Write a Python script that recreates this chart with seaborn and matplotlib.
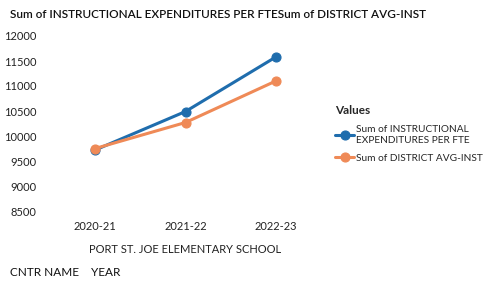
import matplotlib
matplotlib.use("Agg")
import matplotlib.pyplot as plt
import pandas as pd
import seaborn as sns

years = ["2020-21", "2021-22", "2022-23"]
instructional = [9720, 10490, 11580]
district_avg = [9750, 10270, 11100]
series_names = ["Sum of INSTRUCTIONAL\nEXPENDITURES PER FTE", "Sum of DISTRICT AVG-INST"]
y_ticks = [8500, 9000, 9500, 10000, 10500, 11000, 11500, 12000]

df = pd.DataFrame({
    "year": years * 2,
    "value": instructional + district_avg,
    "series": [series_names[0]] * 3 + [series_names[1]] * 3,
})

sns.set_theme(style="white")
plt.rcParams["font.family"] = ["Lato", "DejaVu Sans"]

fig = plt.figure(figsize=(4.9, 2.82), dpi=100)
ax = fig.add_axes([50 / 490, 1 - 211 / 282, 271 / 490, 175 / 282])

palette = {series_names[0]: "#1F6DAD", series_names[1]: "#EF8A57"}
sns.lineplot(
    data=df, x="year", y="value", hue="series", palette=palette,
    marker="o", markersize=6.5, linewidth=2.2, markeredgewidth=0.8, ax=ax,
)
for line in ax.lines:
    line.set_markeredgecolor(line.get_color())

ax.set_xlim(-0.5, 2.5)
ax.set_ylim(8500, 12000)
ax.set_yticks(y_ticks)
ax.set_yticklabels([str(t) for t in y_ticks])
for s in ax.spines.values():
    s.set_visible(False)
ax.tick_params(axis="both", length=0, labelsize=8, colors="#222222")
ax.tick_params(axis="y", pad=10)
ax.tick_params(axis="x", pad=7)
ax.set_xlabel("PORT ST. JOE ELEMENTARY SCHOOL", fontsize=8, color="#222222", labelpad=9)
ax.set_ylabel("")

handles, labels = ax.get_legend_handles_labels()
leg = ax.legend(
    handles, labels, title="Values", loc="upper left", bbox_to_anchor=(326 / 490, 1 - 96 / 282),
    bbox_transform=fig.transFigure, frameon=False, fontsize=7.3, title_fontsize=8.5,
    handlelength=1.9, handletextpad=0.2, labelspacing=0.9, alignment="left",
)
leg.get_title().set_fontweight("bold")

fig.text(10 / 490, 1 - 15 / 282, "Sum of INSTRUCTIONAL EXPENDITURES PER FTESum of DISTRICT AVG-INST",
         fontsize=8.5, va="center", ha="left", fontweight="semibold", color="#111111")
fig.text(10 / 490, 1 - 272 / 282, "CNTR NAME    YEAR", fontsize=8.5, va="center", ha="left", color="#111111")

fig.savefig("out.png", dpi=100)
